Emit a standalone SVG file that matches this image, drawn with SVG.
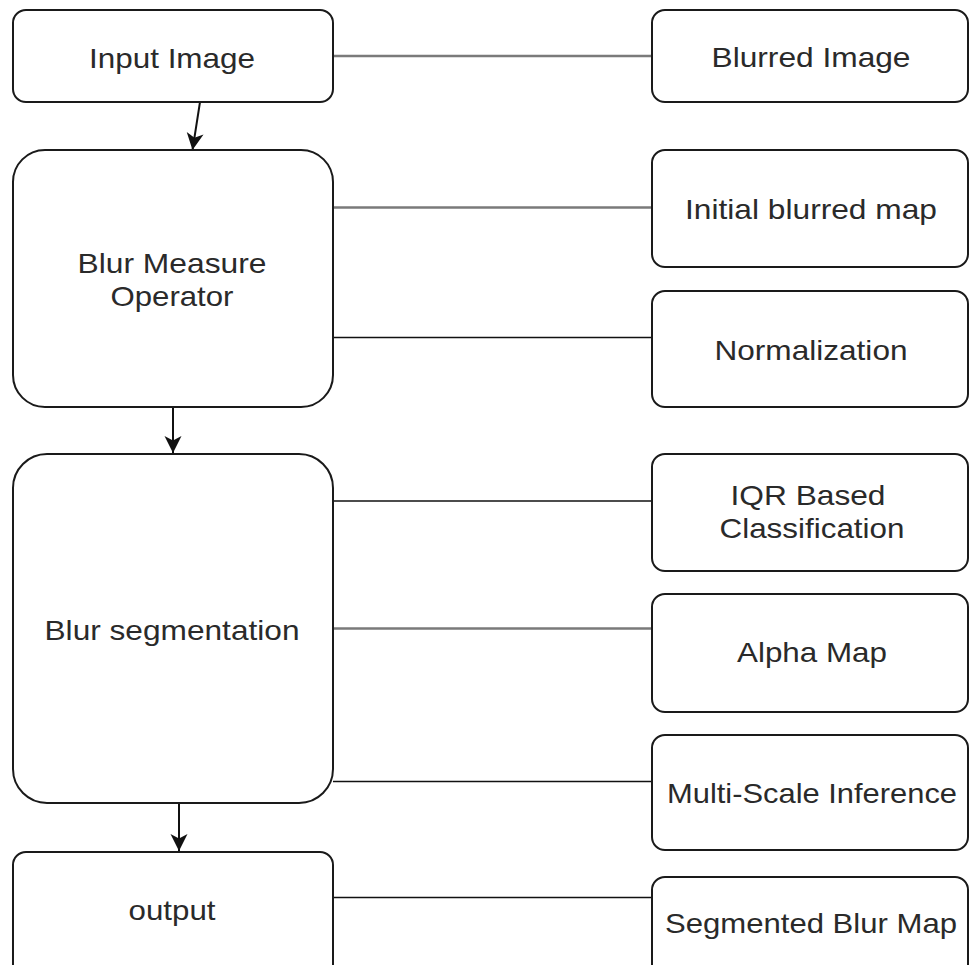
<svg xmlns="http://www.w3.org/2000/svg" width="969" height="965" viewBox="0 0 969 965">
  <style>
    .box { fill: #ffffff; stroke: #1a1a1a; stroke-width: 2; }
    .lbl { font-family: "Liberation Sans", Arial, sans-serif; font-size: 28px; fill: #2a2a2a; text-anchor: middle; }
    .link { stroke: #111; stroke-width: 1.6; fill: none; }
    .link-soft { stroke: #7a7a7a; stroke-width: 2.4; fill: none; }
    .flow { stroke: #111; stroke-width: 2; fill: none; }
  </style>
  <defs>
    <marker id="arrow" markerUnits="userSpaceOnUse" markerWidth="20" markerHeight="20" refX="18" refY="10" orient="auto">
      <path d="M1,1.5 L18,10 L1,18.5 L5.5,10 Z" fill="#111"/>
    </marker>
  </defs>
  <rect width="969" height="965" fill="#ffffff"/>

  <!-- connectors -->
  <g id="connectors">
    <line class="link-soft" x1="333" y1="56" x2="652" y2="56"/>
    <line class="link-soft" x1="333" y1="207.5" x2="652" y2="207.5"/>
    <line class="link" x1="333" y1="337.5" x2="652" y2="337.5"/>
    <line class="link" x1="333" y1="501" x2="652" y2="501"/>
    <line class="link-soft" x1="333" y1="628.5" x2="652" y2="628.5"/>
    <line class="link" x1="333" y1="781.5" x2="652" y2="781.5"/>
    <line class="link" x1="333" y1="897.5" x2="652" y2="897.5"/>
    <line class="flow" x1="200" y1="102" x2="192.5" y2="150" marker-end="url(#arrow)"/>
    <line class="flow" x1="173" y1="407" x2="173" y2="453" marker-end="url(#arrow)"/>
    <line class="flow" x1="179" y1="804" x2="179" y2="851" marker-end="url(#arrow)"/>
  </g>

  <!-- left column -->
  <g id="input-image">
    <rect class="box" x="13" y="10" width="320" height="92" rx="13"/>
    <text class="lbl" x="172" y="68" textLength="166" lengthAdjust="spacingAndGlyphs">Input Image</text>
  </g>
  <g id="blur-measure-operator">
    <rect class="box" x="13" y="150" width="320" height="257" rx="32"/>
    <text class="lbl" x="172" y="273" textLength="189" lengthAdjust="spacingAndGlyphs">Blur Measure</text>
    <text class="lbl" x="172" y="306" textLength="123" lengthAdjust="spacingAndGlyphs">Operator</text>
  </g>
  <g id="blur-segmentation">
    <rect class="box" x="13" y="454" width="320" height="349" rx="34"/>
    <text class="lbl" x="172" y="640" textLength="255" lengthAdjust="spacingAndGlyphs">Blur segmentation</text>
  </g>
  <g id="output">
    <rect class="box" x="13" y="852" width="320" height="130" rx="13"/>
    <text class="lbl" x="172" y="920" textLength="87" lengthAdjust="spacingAndGlyphs">output</text>
  </g>

  <!-- right column -->
  <g id="blurred-image">
    <rect class="box" x="652" y="10" width="316" height="92" rx="13"/>
    <text class="lbl" x="811" y="67" textLength="199" lengthAdjust="spacingAndGlyphs">Blurred Image</text>
  </g>
  <g id="initial-blurred-map">
    <rect class="box" x="652" y="150" width="316" height="117" rx="13"/>
    <text class="lbl" x="811" y="219" textLength="252" lengthAdjust="spacingAndGlyphs">Initial blurred map</text>
  </g>
  <g id="normalization">
    <rect class="box" x="652" y="291" width="316" height="116" rx="13"/>
    <text class="lbl" x="811" y="360" textLength="193" lengthAdjust="spacingAndGlyphs">Normalization</text>
  </g>
  <g id="iqr-classification">
    <rect class="box" x="652" y="454" width="316" height="117" rx="13"/>
    <text class="lbl" x="808" y="505" textLength="155" lengthAdjust="spacingAndGlyphs">IQR Based</text>
    <text class="lbl" x="812" y="538" textLength="185" lengthAdjust="spacingAndGlyphs">Classification</text>
  </g>
  <g id="alpha-map">
    <rect class="box" x="652" y="594" width="316" height="118" rx="13"/>
    <text class="lbl" x="812" y="662" textLength="150" lengthAdjust="spacingAndGlyphs">Alpha Map</text>
  </g>
  <g id="multi-scale-inference">
    <rect class="box" x="652" y="735" width="316" height="115" rx="13"/>
    <text class="lbl" x="812" y="803" textLength="290" lengthAdjust="spacingAndGlyphs">Multi-Scale Inference</text>
  </g>
  <g id="segmented-blur-map">
    <rect class="box" x="652" y="877" width="316" height="105" rx="13"/>
    <text class="lbl" x="811" y="933" textLength="292" lengthAdjust="spacingAndGlyphs">Segmented Blur Map</text>
  </g>
</svg>
